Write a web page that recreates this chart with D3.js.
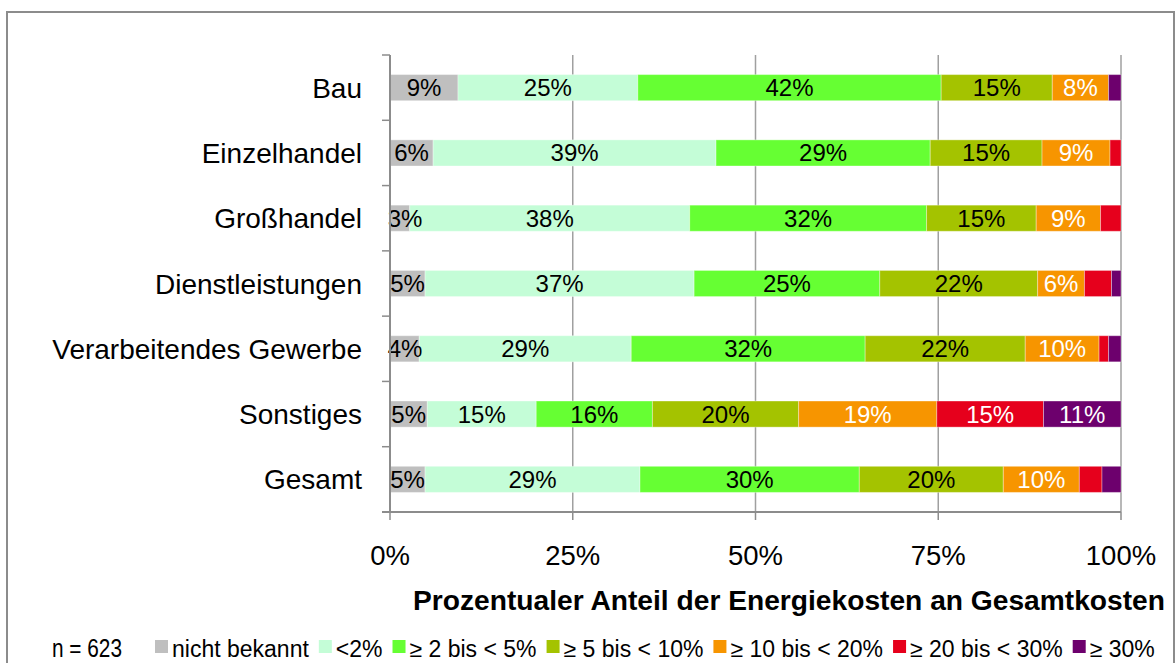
<!DOCTYPE html>
<html>
<head>
<meta charset="utf-8">
<script src="https://cdn.jsdelivr.net/npm/d3@7"></script>
<style>
  body { margin: 0; background: #fff; }
  text { font-family: "Liberation Sans", Arial, sans-serif; }
</style>
</head>
<body>
<div id="chart"></div>
<script>
// categories (top to bottom)
var categories = ["Bau", "Einzelhandel", "Großhandel", "Dienstleistungen",
                  "Verarbeitendes Gewerbe", "Sonstiges", "Gesamt"];

// share of companies per class, in % (same order as categories)
var nichtBekannt = [9.3, 5.9, 2.7, 4.8, 4.0, 5.1, 4.8];
var unter2       = [24.6, 38.7, 38.3, 36.8, 29.0, 14.9, 29.4];
var von2bis5     = [41.5, 29.3, 32.4, 25.4, 32.0, 15.9, 30.0];
var von5bis10    = [15.2, 15.3, 15.0, 21.6, 21.9, 20.0, 19.7];
var von10bis20   = [7.7, 9.3, 8.8, 6.4, 10.1, 18.9, 10.4];
var von20bis30   = [0.0, 1.5, 2.8, 3.7, 1.3, 14.6, 3.1];
var ab30         = [1.7, 0.0, 0.0, 1.3, 1.7, 10.6, 2.6];

var seriesNames = ["nicht bekannt", "<2%", "\u2265 2 bis < 5%", "\u2265 5 bis < 10%",
                   "\u2265 10 bis < 20%", "\u2265 20 bis < 30%", "\u2265 30%"];
var seriesValues = [nichtBekannt, unter2, von2bis5, von5bis10, von10bis20, von20bis30, ab30];
var colors = ["#bfbfbf", "#c4fdd7", "#66ff33", "#a4c300", "#f79500", "#e6001c", "#6d006d"];

var xTicks = [0, 25, 50, 75, 100];

var W = 1176, H = 663;
var margin = {top: 55, right: 55, bottom: 151, left: 390};

var svg = d3.select("#chart").append("svg")
    .attr("width", W)
    .attr("height", H);

// outer frame
svg.append("rect")
    .attr("x", 7).attr("y", 12)
    .attr("width", 1167).attr("height", 700)
    .attr("fill", "none")
    .attr("stroke", "#8c8c8c")
    .attr("stroke-width", 2);

var x = d3.scaleLinear().domain([0, 100]).range([margin.left, W - margin.right]);
var y = d3.scaleBand().domain(categories)
    .range([margin.top, H - margin.bottom])
    .paddingInner(0.6).paddingOuter(0.3);

// gridlines
svg.append("g").selectAll("line")
    .data(xTicks.slice(1))
    .enter().append("line")
    .attr("x1", function(d) { return x(d); })
    .attr("x2", function(d) { return x(d); })
    .attr("y1", margin.top)
    .attr("y2", H - margin.bottom)
    .attr("stroke", "#a0a0a0")
    .attr("stroke-width", 1.5);

// stacked bars
var stackData = categories.map(function(c, i) {
    var row = {cat: c};
    seriesValues.forEach(function(s, k) { row["s" + k] = s[i]; });
    return row;
});
var stack = d3.stack().keys(seriesValues.map(function(s, k) { return "s" + k; }));
var layers = stack(stackData);

var layer = svg.append("g").selectAll("g")
    .data(layers)
    .enter().append("g")
    .attr("fill", function(d, k) { return colors[k]; });

layer.selectAll("rect")
    .data(function(d) { return d; })
    .enter().append("rect")
    .attr("x", function(d) { return x(d[0]); })
    .attr("y", function(d) { return y(d.data.cat); })
    .attr("width", function(d) { return x(d[1]) - x(d[0]); })
    .attr("height", y.bandwidth())
    .attr("stroke", "#ffffff")
    .attr("stroke-opacity", 0.35)
    .attr("stroke-width", 1);

// value labels on top of all bars (small ones are left out, like in the original)
var labels = svg.append("g");
layers.forEach(function(lay, k) {
    labels.append("g").selectAll("text")
        .data(lay.filter(function(d) { return k === 0 || d[1] - d[0] >= 5; }))
        .enter().append("text")
        .attr("x", function(d) {
            var c = (x(d[0]) + x(d[1])) / 2;
            return k === 0 ? Math.max(c, x(0) + 15) : c;
        })
        .attr("y", function(d) { return y(d.data.cat) + y.bandwidth() / 2 + 8.5; })
        .attr("text-anchor", "middle")
        .attr("font-size", 24)
        .attr("fill", k >= 4 ? "#ffffff" : "#000000")
        .text(function(d) { return Math.round(d[1] - d[0]) + "%"; });
});

// y axis
svg.append("line")
    .attr("x1", x(0)).attr("x2", x(0))
    .attr("y1", margin.top).attr("y2", H - margin.bottom)
    .attr("stroke", "#8c8c8c").attr("stroke-width", 2);

var step = y.step();
svg.append("g").selectAll("line")
    .data(d3.range(0, categories.length))
    .enter().append("line")
    .attr("x1", x(0) - 8).attr("x2", x(0))
    .attr("y1", function(i) { return margin.top + i * step; })
    .attr("y2", function(i) { return margin.top + i * step; })
    .attr("stroke", "#8c8c8c").attr("stroke-width", 1.5);

svg.append("g").selectAll("text")
    .data(categories)
    .enter().append("text")
    .attr("x", x(0) - 28)
    .attr("y", function(d) { return y(d) + y.bandwidth() / 2 + 10; })
    .attr("text-anchor", "end")
    .attr("font-size", 28)
    .attr("fill", "#000")
    .text(function(d) { return d; });

// x axis
var xAxisY = H - margin.bottom;
svg.append("line")
    .attr("x1", x(0) - 8).attr("x2", x(100))
    .attr("y1", xAxisY).attr("y2", xAxisY)
    .attr("stroke", "#8c8c8c").attr("stroke-width", 2);

svg.append("g").selectAll("line")
    .data(xTicks)
    .enter().append("line")
    .attr("x1", function(d) { return x(d); })
    .attr("x2", function(d) { return x(d); })
    .attr("y1", xAxisY).attr("y2", xAxisY + 8)
    .attr("stroke", "#8c8c8c").attr("stroke-width", 1.5);

svg.append("g").selectAll("text")
    .data(xTicks)
    .enter().append("text")
    .attr("x", function(d) { return x(d); })
    .attr("y", 565)
    .attr("text-anchor", "middle")
    .attr("font-size", 27.5)
    .text(function(d) { return d + "%"; });

svg.append("text")
    .attr("x", 1165)
    .attr("y", 610)
    .attr("text-anchor", "end")
    .attr("font-size", 28)
    .attr("font-weight", "bold")
    .attr("textLength", 752)
    .attr("lengthAdjust", "spacingAndGlyphs")
    .text("Prozentualer Anteil der Energiekosten an Gesamtkosten");

// legend
svg.append("text")
    .attr("x", 52).attr("y", 657)
    .attr("font-size", 25)
    .attr("textLength", 70)
    .attr("lengthAdjust", "spacingAndGlyphs")
    .text("n = 623");

var lx = 155;
seriesNames.forEach(function(name, k) {
    svg.append("rect")
        .attr("x", lx).attr("y", 640)
        .attr("width", 13).attr("height", 13)
        .attr("fill", colors[k]);
    var t = svg.append("text")
        .attr("x", lx + 17).attr("y", 657)
        .attr("font-size", 23)
        .text(name);
    lx += 17 + t.node().getComputedTextLength() + 10;
});
</script>
</body>
</html>
